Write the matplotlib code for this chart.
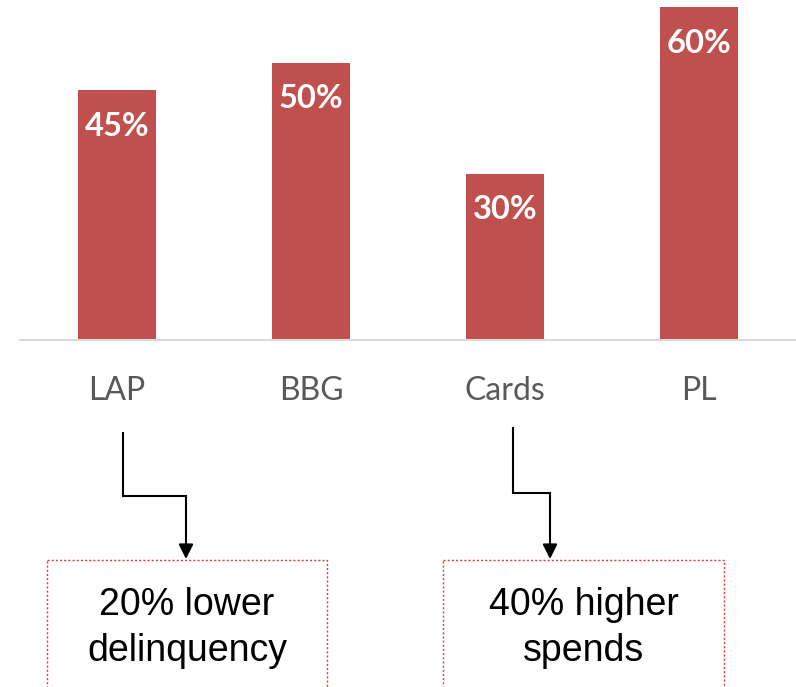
import matplotlib.pyplot as plt
from matplotlib.patches import Rectangle

# data
categories = ['LAP', 'BBG', 'Cards', 'PL']
shares = [45, 50, 30, 60]
callout_texts = ['20% lower\ndelinquency', '40% higher\nspends']
callout_from = ['LAP', 'Cards']

W, H = 796, 687
fig = plt.figure(figsize=(W / 100, H / 100), dpi=100)

def px(x0, y0, x1, y1):
    # pixel box (top-left origin) -> figure fraction rect
    return [x0 / W, 1 - y1 / H, (x1 - x0) / W, (y1 - y0) / H]

bar_color = '#C0504D'
ax = fig.add_axes(px(20, 7, 796, 340))
xs = range(len(categories))
ax.bar(xs, shares, width=0.40, color=bar_color, clip_on=False)
ax.set_xlim(-0.5, len(categories) - 0.5)
ax.set_ylim(0, 60)
for x, v in zip(xs, shares):
    ax.annotate(f'{v}%', (x, v), xytext=(0, -15.5), textcoords='offset points',
                ha='center', va='top', color='white', fontsize=23.5,
                fontweight='bold', family='Lato')

for s in ['top', 'right', 'left']:
    ax.spines[s].set_visible(False)
ax.spines['bottom'].set_color('#D9D9D9')
ax.spines['bottom'].set_linewidth(1.5)
ax.set_yticks([])
ax.set_xticks(list(xs))
ax.set_xticklabels(categories, fontsize=23, color='#595959', family='Lato')
ax.tick_params(axis='x', length=0, pad=26)

# overlay in pixel coordinates for the elbow arrows and callout boxes
ov = fig.add_axes([0, 0, 1, 1])
ov.set_xlim(0, W)
ov.set_ylim(H, 0)
ov.axis('off')

arrows = [
    (123, 433, 496, 186),
    (513, 428, 493, 550),
]
boxes = [(47, 327), (443, 724)]
for (x0, y0, ymid, x1), (bl, br), txt in zip(arrows, boxes, callout_texts):
    ov.plot([x0, x0, x1], [y0, ymid, ymid], color='black', lw=1.5,
            solid_joinstyle='miter')
    ov.annotate('', xy=(x1, 559), xytext=(x1, ymid),
                arrowprops=dict(arrowstyle='-|>', color='black', lw=1.5,
                                mutation_scale=22, shrinkA=0, shrinkB=0))
    ov.add_patch(Rectangle((bl, 560), br - bl, 200, fill=False,
                           edgecolor='#E03C3C', lw=1.0, ls=(0, (1.5, 1.5))))
    ov.text((bl + br) / 2, 628, txt, ha='center', va='center', fontsize=27,
            family='Liberation Sans', linespacing=1.35, color='black')

fig.savefig('out.png', dpi=100)
